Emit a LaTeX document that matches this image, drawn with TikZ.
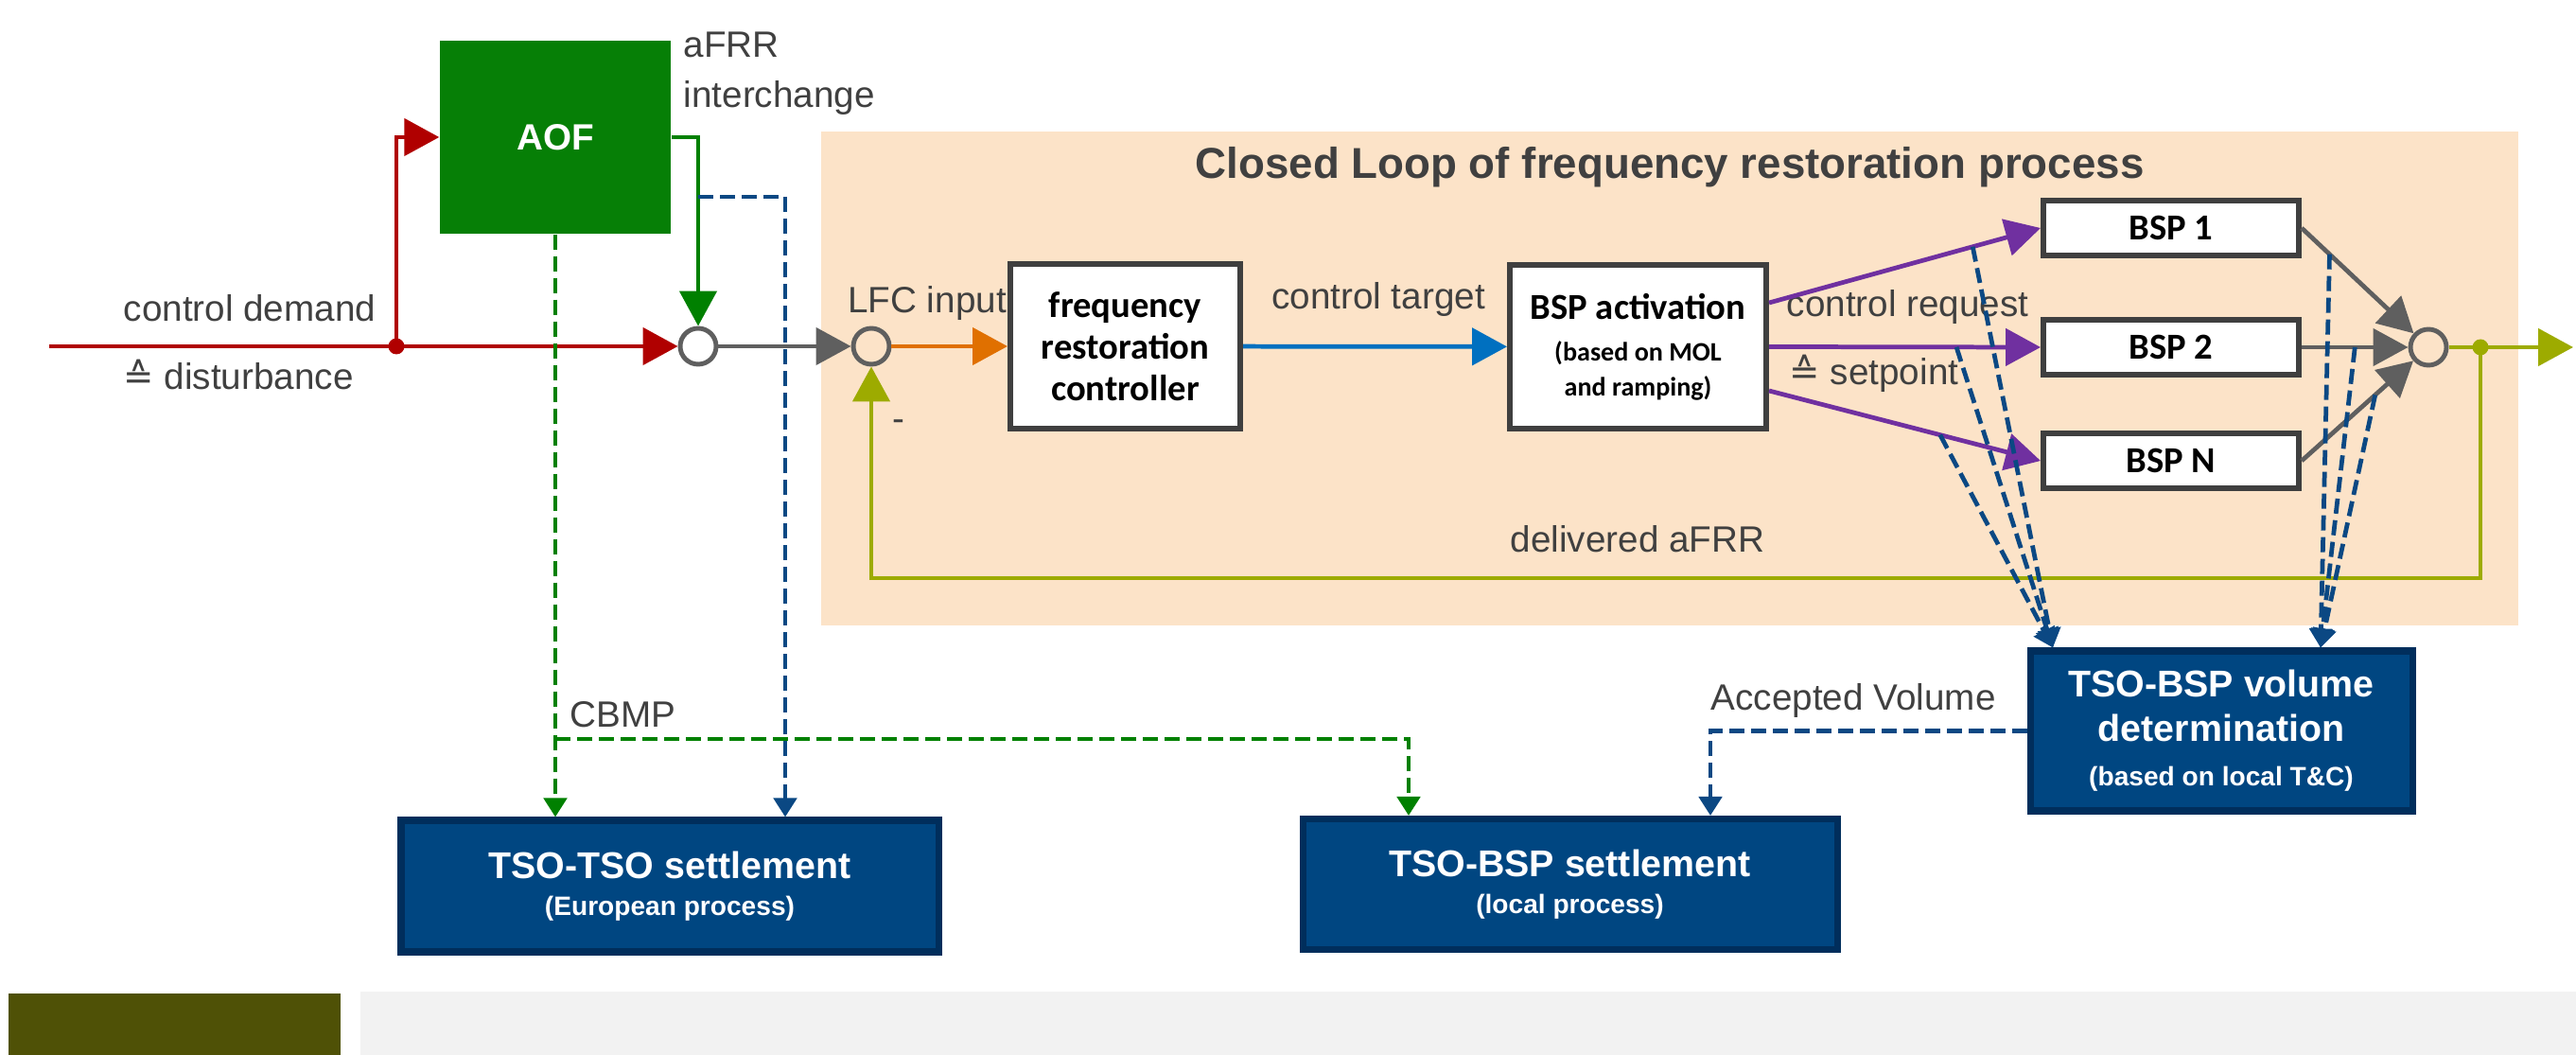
\documentclass[tikz,border=0pt]{standalone}
\usepackage{fontspec}
\setmainfont{Liberation Sans}
\newfontfamily\boxfont{Carlito}
\newfontfamily\symfont{DejaVu Sans}
\usepackage{tikz}
\usetikzlibrary{arrows.meta, positioning, calc}
\definecolor{frpeach}{HTML}{FCE3C8}
\definecolor{frtext}{HTML}{404040}
\definecolor{frred}{HTML}{B00000}
\definecolor{frgreen}{HTML}{008000}
\definecolor{fraof}{HTML}{067F06}
\definecolor{frgrey}{HTML}{5F5F5F}
\definecolor{frorange}{HTML}{E07000}
\definecolor{frblue}{HTML}{0070C0}
\definecolor{frpurple}{HTML}{7030A0}
\definecolor{frolive}{HTML}{9DAB00}
\definecolor{frnavy}{HTML}{004681}
\definecolor{frnavyd}{HTML}{002E5C}
\definecolor{frdash}{HTML}{0B4883}
\definecolor{frbox}{HTML}{3F3F3F}
\definecolor{frbar}{HTML}{4F5106}
\definecolor{frlight}{HTML}{F2F2F2}

\begin{document}
\begin{tikzpicture}[font=\fontsize{11}{15}\selectfont,
          lbl/.style={text=frtext, inner sep=0pt},
          blk/.style={draw=frbox, line width=1.7pt, fill=white, inner sep=0pt, align=center, font=\boxfont\bfseries\fontsize{11}{12.5}\selectfont},
          bsp/.style={blk, minimum width=2.7cm, minimum height=0.58cm},
          set/.style={draw=frnavyd, line width=2pt, fill=frnavy, text=white, inner sep=0pt, align=center, font=\bfseries\fontsize{11.2}{12}\selectfont},
          sum/.style={circle, draw=frgrey, line width=1.4pt, fill=white, minimum size=0.38cm, inner sep=0pt},
          dot/.style={circle, fill=#1, minimum size=0.17cm, inner sep=0pt},
          big/.style={line width=1.35pt, -{Triangle[length=0.37cm, width=0.39cm]}},
          dsh/.style={line width=1.35pt, dash pattern=on 0.16cm off 0.07cm, -{Triangle[length=0.2cm, width=0.24cm]}}]
          \useasboundingbox (0,0) rectangle (27.23,-11.15);
          \fill[frpeach] (8.68,-1.39) rectangle (26.62,-6.61);
          \fill[frbar] (0.09,-10.5) rectangle (3.6,-11.15);
          \fill[frlight] (3.81,-10.48) rectangle (27.23,-11.15);
          \node[lbl, font=\bfseries\fontsize{13}{15}\selectfont] (title) at (17.65,-1.77) {Closed Loop of frequency restoration process};
          \node[fill=fraof, minimum width=2.44cm, minimum height=2.04cm, text=white, font=\bfseries\fontsize{11}{13}\selectfont] (aof) at (5.87,-1.45) {AOF};
          \node[sum] (s1) at (7.38,-3.66) {};
          \node[sum, fill=frpeach] (s2) at (9.21,-3.66) {};
          \node[blk, minimum width=2.43cm, minimum height=1.74cm] (frc) at (11.895,-3.66) {frequency\\restoration\\controller};
          \node[blk, minimum width=2.71cm, minimum height=1.73cm, font=\boxfont\bfseries\fontsize{8}{10.5}\selectfont] (act) at (17.315,-3.665) {{\fontsize{11}{12}\selectfont BSP activation}\\[2pt](based on MOL\\and ramping)};
          \node[bsp] (b1) at (22.95,-2.41) {BSP 1};
          \node[bsp] (b2) at (22.95,-3.67) {BSP 2};
          \node[bsp] (bn) at (22.95,-4.87) {BSP N};
          \node[sum, fill=frpeach] (s3) at (25.67,-3.67) {};
          \node[set, minimum width=4.04cm, minimum height=1.69cm, font=\bfseries\fontsize{11.2}{13.4}\selectfont] (vol) at (23.48,-7.725) {TSO-BSP volume\\determination\\\fontsize{8}{11}\selectfont(based on local T\&C)};
          \node[set, minimum width=5.68cm, minimum height=1.39cm] (tt) at (7.08,-9.365) {TSO-TSO settlement\\[-1pt]\fontsize{8}{10}\selectfont(European process)};
          \node[set, minimum width=5.65cm, minimum height=1.38cm] (tb) at (16.595,-9.345) {TSO-BSP settlement\\[-1pt]\fontsize{8}{10}\selectfont(local process)};
          \node[lbl, anchor=west] (cd) at (1.30,-3.26) {control demand};
          \node[lbl, anchor=west] (dist) at (1.30,-3.96) {{\symfont ≙} disturbance};
          \node[lbl, anchor=north west, align=left] (afrr) at (7.22,-0.33) {aFRR\\interchange};
          \node[lbl] (lfc) at (9.80,-3.21) {LFC input};
          \node[lbl] (neg) at (9.50,-4.50) {-};
          \node[lbl] (ct) at (14.57,-3.17) {control target};
          \node[lbl, anchor=west] (cr) at (18.88,-3.25) {control request};
          \node[lbl, anchor=west] (sp) at (18.91,-3.95) {{\symfont ≙} setpoint};
          \node[lbl, anchor=west] (da) at (15.96,-5.70) {delivered aFRR};
          \node[lbl, anchor=west] (cbmp) at (6.02,-7.55) {CBMP};
          \node[lbl, anchor=west] (av) at (18.08,-7.41) {Accepted Volume};
          \coordinate (in) at (0.52,-3.66);
          \coordinate (out) at (27.20,-3.67);
          \node[dot=frred] (br) at (4.19,-3.66) {};
          \node[dot=frolive] (od) at (26.22,-3.67) {};
          \draw[big, frred] (in) -- (s1);
          \draw[big, frred] (br.center) |- (aof.west);
          \draw[big, frgreen] (aof.east) -| (s1);
          \draw[big, frgrey] (s1) -- (s2);
          \draw[big, frorange] (s2) -- (frc);
          \draw[big, frblue] (frc) -- (act);
          \draw[big, frpurple] ([yshift=.465cm]act.east) -- coordinate[pos=.75] (m1) (b1.west);
          \draw[big, frpurple] (act.east) -- coordinate[pos=.69] (m2) (b2.west);
          \draw[big, frpurple] ([yshift=-.465cm]act.east) -- coordinate[pos=.63] (m3) (bn.west);
          \draw[big, frgrey] (b1.east) -- (s3);
          \draw[big, frgrey] (b2.east) -- (s3);
          \draw[big, frgrey] (bn.east) -- (s3);
          \draw[big, frolive] (s3) -- (out);
          \draw[big, frolive] (od.center) -- ++(0,-2.44) -| (s2);
          \coordinate (cb) at (aof.south |- 0,-7.81);
          \coordinate (ai) at (s1 |- 0,-2.08);
          \draw[dsh, frgreen] (aof.south) -- (aof.south |- tt.north);
          \draw[dsh, frgreen] (cb) -| ([xshift=-1.705cm]tb.north);
          \draw[dsh, frdash] (ai) -| ([xshift=1.22cm]tt.north);
          \draw[dsh, frdash] (vol.west) -| ([xshift=1.485cm]tb.north);
          \foreach \m in {m1,m2,m3} \draw[dsh, frdash] (\m) -- ([xshift=-1.78cm]vol.north);
          \draw[dsh, frdash] ($(b1.east)!.22!(s3)$) -- ([xshift=1.05cm]vol.north);
          \draw[dsh, frdash] ($(b2.east)!.42!(s3)$) -- ([xshift=1.05cm]vol.north);
          \draw[dsh, frdash] ($(bn.east)!.58!(s3)$) -- ([xshift=1.05cm]vol.north);
        \end{tikzpicture}
\end{document}
